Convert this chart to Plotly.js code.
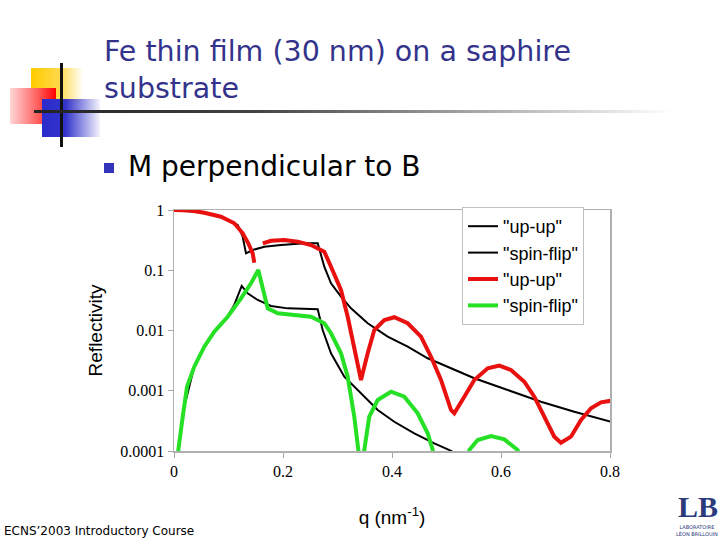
<!DOCTYPE html>
<html>
<head>
<meta charset="utf-8">
<script src="https://cdn.plot.ly/plotly-3.0.1.min.js"></script>
<style>
  html, body { margin:0; padding:0; background:#fff; }
  #wrap { position:relative; width:720px; height:540px; overflow:hidden; }
  #chart { position:absolute; left:0; top:0; width:720px; height:540px; }
  .deco { position:absolute; pointer-events:none; }
</style>
</head>
<body>
<div id="wrap">
  <div class="deco" style="left:31px;top:68px;width:52px;height:34px;background:linear-gradient(to right,#ffcc00 0%,#ffd84a 55%,rgba(255,230,150,0) 100%);"></div>
  <div class="deco" style="left:10px;top:88px;width:46px;height:36px;background:linear-gradient(to right,rgba(255,210,210,0.9) 0%,#ff6060 60%,#ff0000 100%);"></div>
  <div class="deco" style="left:42px;top:99px;width:58px;height:38px;background:linear-gradient(to right,#2b2bcc 0%,#3333cc 40%,rgba(200,200,240,0.2) 100%);"></div>
  <div class="deco" style="left:60px;top:63px;width:3px;height:84px;background:#111;"></div>
  <div class="deco" style="left:34px;top:110px;width:640px;height:3px;background:linear-gradient(to right,#222 0%,#444 35%,#aaa 70%,rgba(255,255,255,0) 100%);"></div>
  <div class="deco" style="left:104px;top:163px;width:10px;height:10px;background:#3333bb;"></div>
  <div id="chart"></div>
</div>
<script>
// ---- data ----
var qUpUpBlack = [0, 0.0556, 0.0862, 0.1106, 0.1169, 0.1261, 0.1321, 0.1444, 0.1657, 0.1963, 0.2391, 0.2637, 0.2697, 0.2758, 0.2881, 0.3064, 0.3248, 0.3554, 0.3921, 0.4288, 0.4655, 0.5022, 0.551, 0.6123, 0.6734, 0.7345, 0.8018];
var rUpUpBlack = [1, 0.902, 0.774, 0.601, 0.564, 0.360, 0.191, 0.217, 0.246, 0.262, 0.280, 0.280, 0.179, 0.1145, 0.0607, 0.0364, 0.0233, 0.0132, 0.0079, 0.00538, 0.00346, 0.00251, 0.00161, 0.00103, 0.000658, 0.000449, 0.000306];

var qSpinFlipBlack = [0.02, 0.0372, 0.0556, 0.0739, 0.0985, 0.11, 0.1242, 0.1352, 0.1536, 0.178, 0.2086, 0.2637, 0.2728, 0.2881, 0.3125, 0.3431, 0.3738, 0.4042, 0.4409, 0.4776, 0.5083, 0.53];
var rSpinFlipBlack = [0.0006, 0.0025, 0.00538, 0.00955, 0.0172, 0.026, 0.0548, 0.0414, 0.0321, 0.0255, 0.0233, 0.0225, 0.0102, 0.00419, 0.00171, 0.000907, 0.000479, 0.000306, 0.000196, 0.000134, 0.000101, 0.00007];

var qUpUpRed = [0, 0.03, 0.0556, 0.0862, 0.1106, 0.1261, 0.1363, 0.1444, 0.1473, null, 0.1628, 0.178, 0.2024, 0.227, 0.2514, 0.2758, 0.2881, 0.3064, 0.3187, 0.3308, 0.3431, 0.3554, 0.3675, 0.3859, 0.4042, 0.4288, 0.4532, 0.4716, 0.4899, 0.5083, 0.5143, 0.5327, 0.551, 0.5756, 0.5969, 0.6183, 0.6428, 0.6611, 0.6794, 0.6978, 0.7101, 0.7284, 0.7468, 0.7651, 0.7835, 0.8018];
var rUpUpRed = [1, 0.98, 0.902, 0.774, 0.601, 0.410, 0.280, 0.191, 0.133, null, 0.280, 0.309, 0.318, 0.298, 0.262, 0.203, 0.1145, 0.047, 0.0169, 0.00474, 0.00151, 0.00419, 0.0102, 0.0149, 0.0166, 0.0132, 0.00789, 0.00367, 0.00151, 0.000479, 0.000422, 0.000796, 0.00151, 0.00236, 0.00261, 0.00221, 0.00141, 0.000796, 0.000371, 0.000173, 0.000137, 0.000173, 0.000327, 0.000512, 0.000643, 0.000684];

var qSpinFlipGreen = [0.005, 0.0079, 0.016, 0.0239, 0.0372, 0.0556, 0.0739, 0.0985, 0.1229, 0.1413, 0.1547, 0.1628, 0.1719, 0.1903, 0.227, 0.2514, 0.2758, 0.2881, 0.3064, 0.3187, 0.3308, 0.3382, 0.342, 0.345, 0.3492, 0.3583, 0.3738, 0.3982, 0.4226, 0.4472, 0.4655, 0.4747, 0.48, 0.535, 0.5418, 0.5572, 0.5817, 0.6061, 0.6306, 0.64];
var rSpinFlipGreen = [0.00003, 0.000104, 0.000371, 0.00117, 0.00251, 0.00538, 0.00955, 0.0169, 0.0342, 0.0607, 0.101, 0.0533, 0.0233, 0.0193, 0.0181, 0.0169, 0.0132, 0.0090, 0.00419, 0.00171, 0.000371, 0.000104, 0.00002, 0.00002, 0.000104, 0.000371, 0.000702, 0.000964, 0.000796, 0.000422, 0.000197, 0.000104, 0.00003, 0.00003, 0.000104, 0.000152, 0.000177, 0.000156, 0.000104, 0.00003];

var seriesNames = ['"up-up"', '"spin-flip"', '"up-up"', '"spin-flip"'];
var xTickVals = [0, 0.2, 0.4, 0.6, 0.8];
var xTickText = ['0', '0.2', '0.4', '0.6', '0.8'];
var yTickVals = [0.0001, 0.001, 0.01, 0.1, 1];
var yTickText = ['0.0001', '0.001', '0.01', '0.1', '1'];

var traces = [
  {x: qUpUpBlack, y: rUpUpBlack, name: seriesNames[0], mode: 'lines', line: {color: '#000000', width: 2}},
  {x: qSpinFlipBlack, y: rSpinFlipBlack, name: seriesNames[1], mode: 'lines', line: {color: '#000000', width: 2}},
  {x: qUpUpRed, y: rUpUpRed, name: seriesNames[2], mode: 'lines', connectgaps: false, line: {color: '#e8110f', width: 4}},
  {x: qSpinFlipGreen, y: rSpinFlipGreen, name: seriesNames[3], mode: 'lines', line: {color: '#25e025', width: 4}}
];

// plot area in pixels: x 174..610, y 210..451
function px(x) { return (x - 174) / 436; }
function py(y) { return (451 - y) / 241; }

var layout = {
  width: 720, height: 540,
  margin: {l: 174, r: 110, t: 210, b: 89, pad: 0},
  paper_bgcolor: 'rgba(0,0,0,0)',
  plot_bgcolor: 'rgba(0,0,0,0)',
  showlegend: true,
  title: {
    text: 'Fe thin film (30 nm) on a saphire<br>substrate',
    font: {family: 'DejaVu Sans', size: 28.5, color: '#33338c'},
    xref: 'container', yref: 'container', x: 104/720, xanchor: 'left',
    y: 1 - 61/540, yanchor: 'top', pad: {t: 0, l: 0}
  },
  xaxis: {
    range: [0, 0.8], tickvals: xTickVals, ticktext: xTickText,
    ticks: 'outside', ticklen: 5, tickcolor: '#a6a6a6', tickwidth: 1,
    showline: true, linecolor: '#b0b0b0', linewidth: 1.5, mirror: true,
    showgrid: false, zeroline: false,
    tickfont: {family: 'Liberation Serif', size: 16, color: '#000'},
    title: {text: 'q (nm<sup>-1</sup>)', font: {family: 'Liberation Sans', size: 19, color: '#000'}, standoff: 32}
  },
  yaxis: {
    type: 'log', range: [-4, 0], tickvals: yTickVals, ticktext: yTickText,
    ticks: 'outside', ticklen: 5, tickcolor: '#a6a6a6', tickwidth: 1,
    showline: true, linecolor: '#b0b0b0', linewidth: 1.5, mirror: true,
    showgrid: false, zeroline: false,
    tickfont: {family: 'Liberation Serif', size: 16, color: '#000'},
    title: {text: 'Reflectivity', font: {family: 'Liberation Sans', size: 19, color: '#000'}, standoff: 12}
  },
  legend: {
    x: px(462), y: 1 + 3/241, xanchor: 'left', yanchor: 'top',
    bgcolor: '#ffffff', bordercolor: '#c0c0c0', borderwidth: 1,
    font: {family: 'Liberation Sans', size: 18, color: '#000'},
    tracegroupgap: 0, itemwidth: 30
  },
  annotations: [
    {xref: 'paper', yref: 'paper', x: px(126), y: py(166), xanchor: 'left', yanchor: 'middle', showarrow: false,
     text: 'M perpendicular to B', font: {family: 'DejaVu Sans', size: 28, color: '#000'}},
    {xref: 'paper', yref: 'paper', x: px(2), y: py(531), xanchor: 'left', yanchor: 'middle', showarrow: false,
     text: 'ECNS\u20192003 Introductory Course', font: {family: 'DejaVu Sans', size: 12, color: '#000'}},
    {xref: 'paper', yref: 'paper', x: px(698), y: py(506), xanchor: 'center', yanchor: 'middle', showarrow: false,
     text: '<b>LB</b>', font: {family: 'Liberation Serif', size: 30, color: '#2a3a7a'}},
    {xref: 'paper', yref: 'paper', x: px(697), y: py(530), xanchor: 'center', yanchor: 'middle', showarrow: false,
     text: 'LABORATOIRE<br>LÉON BRILLOUIN', font: {family: 'DejaVu Sans', size: 5, color: '#2a3a7a'}}
  ]
};

Plotly.newPlot('chart', traces, layout, {displayModeBar: false, staticPlot: true});
</script>
</body>
</html>
